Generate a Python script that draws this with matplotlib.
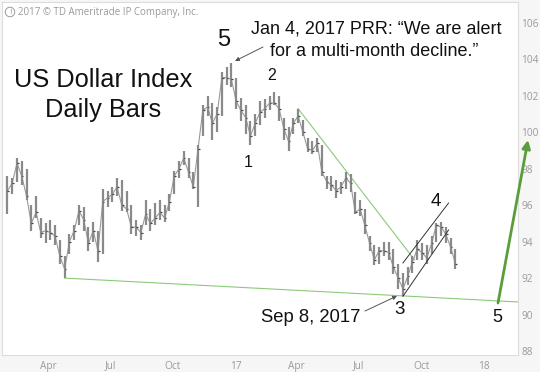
import matplotlib
matplotlib.use('Agg')
import matplotlib.pyplot as plt
import pandas as pd
import numpy as np

plt.rcParams['font.family'] = ['Liberation Sans', 'DejaVu Sans']

# ---- data (weekly bars) ----
week_start = pd.date_range('2016-02-01', periods=95, freq='W-MON')
week_high = [97.6, 97.5, 98.6, 98.4, 98.0, 96.0, 96.5, 95.3, 95.0, 95.2, 94.9, 94.1, 93.2, 94.4, 94.9,
             96.0, 95.9, 94.8, 95.1, 94.6, 96.9, 96.8, 97.0, 97.5, 97.4, 96.8, 96.0, 95.2, 94.9, 96.3,
             95.8, 96.1, 96.3, 96.0, 96.6, 97.9, 98.4, 99.0, 98.6, 97.8, 99.3, 101.5, 102.0, 101.6, 101.4,
             103.3, 103.6, 103.8, 103.0, 101.9, 101.5, 100.6, 101.0, 101.7, 101.8, 102.0, 102.2, 102.0,
             100.8, 100.3, 100.8, 101.3, 100.7, 99.7, 99.5, 99.7, 99.3, 97.6, 97.6, 97.4, 97.3, 97.8,
             97.7, 96.7, 96.3, 95.8, 94.3, 93.8, 93.7, 94.0, 94.0, 93.6, 92.8, 92.3, 92.6, 93.2, 94.1,
             93.9, 93.8, 94.3, 95.0, 95.1, 94.8, 94.2, 93.6]
week_low = [95.5, 96.6, 97.3, 97.1, 96.3, 94.6, 95.3, 94.2, 93.9, 94.1, 93.8, 92.8, 92.0, 93.3, 94.1,
            94.9, 94.6, 93.5, 94.0, 92.9, 93.3, 95.9, 96.2, 96.5, 95.7, 95.6, 94.4, 94.3, 94.1, 94.9,
            94.6, 94.9, 95.2, 95.1, 95.7, 96.6, 97.5, 98.2, 97.5, 96.9, 95.9, 99.8, 100.9, 99.6, 100.0,
            100.9, 102.6, 102.5, 101.3, 100.6, 99.9, 99.3, 99.8, 100.4, 100.8, 101.2, 101.5, 100.6,
            99.6, 99.0, 99.9, 100.5, 99.8, 98.9, 98.8, 98.9, 97.6, 96.9, 96.8, 96.4, 96.6, 96.9,
            96.7, 95.5, 95.4, 94.4, 93.5, 92.7, 92.8, 93.2, 93.0, 92.2, 91.4, 91.0, 91.6, 92.3, 93.0,
            93.0, 92.8, 93.3, 94.0, 94.3, 93.9, 93.3, 92.5]
week_close = [96.8, 97.2, 98.3, 97.6, 96.5, 95.0, 95.6, 94.5, 94.6, 94.5, 94.3, 93.2, 92.5, 94.0, 94.6,
              95.7, 95.2, 93.9, 94.6, 93.5, 96.2, 96.4, 96.6, 97.0, 96.0, 95.8, 94.8, 94.8, 94.5, 95.5,
              95.0, 95.3, 95.6, 95.3, 96.2, 97.6, 98.0, 98.6, 97.8, 97.0, 99.1, 101.2, 101.4, 100.5, 101.0,
              103.0, 103.0, 102.9, 101.7, 101.2, 100.8, 99.8, 100.5, 101.1, 101.3, 101.6, 101.6, 101.3,
              100.2, 99.5, 100.5, 100.9, 100.0, 99.1, 99.0, 99.4, 97.8, 97.3, 97.1, 96.8, 97.0, 97.5,
              97.2, 95.6, 95.8, 94.9, 93.9, 93.0, 93.5, 93.5, 93.4, 92.6, 92.0, 91.4, 92.1, 92.9, 93.6,
              93.4, 93.1, 93.9, 94.9, 94.8, 94.4, 93.7, 92.8]

# annotation lines (dates, values)
support_dates = ['2016-04-25', '2018-02-20']
support_values = [92.0, 90.69]
down_dates = ['2017-04-03', '2017-09-21']
down_values = [101.3, 93.0]
chan_low_dates = ['2017-09-04', '2017-11-10']
chan_low_values = [91.0, 94.64]
chan_up_dates = ['2017-09-04', '2017-11-10']
chan_up_values = [92.83, 96.12]

y_ticks = [88, 90, 92, 94, 96, 98, 100, 102, 104, 106]
x_tick_dates = ['2016-04-01', '2016-07-01', '2016-10-01', '2017-01-01',
                '2017-04-01', '2017-07-01', '2017-10-01', '2018-01-01']
x_tick_labels = ['Apr', 'Jul', 'Oct', '17', 'Apr', 'Jul', 'Oct', '18']

W, H = 540, 372


def fp(x, y):
    return (x / W, 1 - y / H)


fig = plt.figure(figsize=(5.4, 3.72), dpi=100, facecolor='#f6f6f6')
ax = fig.add_axes([2 / W, 1 - 355 / H, (518 - 2) / W, (355 - 2) / H])
ax.set_facecolor('white')

ax.set_xlim(pd.Timestamp('2016-01-24'), pd.Timestamp('2018-02-20'))
ax.set_ylim(87.78, 107.15)

# bars
ax.plot(week_start, week_close, color='#9a9a9a', lw=0.8, zorder=2.5)
ax.vlines(week_start, week_low, week_high, color='#8a8a8a', lw=1.6, zorder=3)
ax.hlines(week_close, week_start, week_start + pd.Timedelta(days=2.5), color='#444444', lw=0.9, zorder=3)

# lines
ax.plot(pd.to_datetime(support_dates), support_values, color='#8cc97a', lw=0.8, zorder=2, clip_on=True)
ax.plot(pd.to_datetime(down_dates), down_values, color='#8cc97a', lw=0.8, zorder=2)
ax.plot(pd.to_datetime(chan_low_dates), chan_low_values, color='#333333', lw=0.7, zorder=4)
ax.plot(pd.to_datetime(chan_up_dates), chan_up_values, color='#333333', lw=0.7, zorder=4)

# axes styling
ax.yaxis.tick_right()
ax.set_yticks(y_ticks)
ax.set_yticklabels([str(v) for v in y_ticks])
ax.set_xticks(pd.to_datetime(x_tick_dates))
ax.set_xticklabels(x_tick_labels)
ax.tick_params(axis='both', length=0, labelsize=7.3, labelcolor='#9a9a9a')
ax.tick_params(axis='y', pad=2.5)
ax.tick_params(axis='x', pad=4)
for lab in ax.get_xticklabels() + ax.get_yticklabels():
    lab.set_fontfamily(['Open Sans', 'DejaVu Sans'])
for s in ax.spines.values():
    s.set_color('#dcdcdc')
    s.set_linewidth(0.8)

# texts
fig.text(*fp(10, 12), '!', ha='center', va='center', fontsize=6, color='#999999',
         bbox=dict(boxstyle='circle,pad=0.15', fc='none', ec='#999999', lw=0.7))
fig.text(*fp(18, 12), '2017 © TD Ameritrade IP Company, Inc.', ha='left', va='center',
         fontsize=7, color='#9a9a9a', family=['Open Sans', 'DejaVu Sans'])

fig.text(*fp(103, 80), 'US Dollar Index', ha='center', va='center', fontsize=18.3, color='#111111')
fig.text(*fp(103, 110), 'Daily Bars', ha='center', va='center', fontsize=18.3, color='#111111')

fig.text(*fp(376, 29), 'Jan 4, 2017 PRR: \u201cWe are alert', ha='center', va='center',
         fontsize=13, color='#111111')
fig.text(*fp(374, 51), 'for a multi-month decline.\u201d', ha='center', va='center',
         fontsize=13, color='#111111')

fig.text(*fp(224, 40), '5', ha='center', va='center', fontsize=17, color='#111111')
fig.text(*fp(272, 75), '2', ha='center', va='center', fontsize=11.5, color='#111111')
fig.text(*fp(248, 162), '1', ha='center', va='center', fontsize=11.5, color='#111111')
fig.text(*fp(436, 201), '4', ha='center', va='center', fontsize=13.5, color='#111111')
fig.text(*fp(400, 310), '3', ha='center', va='center', fontsize=13.5, color='#111111')
fig.text(*fp(497, 318), '5', ha='center', va='center', fontsize=13, color='#111111')
fig.text(*fp(311, 318), 'Sep 8, 2017', ha='center', va='center', fontsize=13.3, color='#111111')

# pointer arrows
ax.annotate('', xy=fp(235, 61), xycoords='figure fraction', xytext=fp(263, 47), textcoords='figure fraction',
            arrowprops=dict(arrowstyle='-|>', color='#555555', lw=0.7, mutation_scale=6, shrinkA=0, shrinkB=0))
ax.annotate('', xy=fp(397, 296), xycoords='figure fraction', xytext=fp(365, 311), textcoords='figure fraction',
            arrowprops=dict(arrowstyle='-|>', color='#555555', lw=0.7, mutation_scale=6, shrinkA=0, shrinkB=0))

# big green projection arrow
ax.annotate('', xy=fp(528, 140), xycoords='figure fraction', xytext=fp(498, 303), textcoords='figure fraction',
            annotation_clip=False,
            arrowprops=dict(arrowstyle='-|>', color='#5a9e3c', lw=2, mutation_scale=12, shrinkA=0, shrinkB=0))

fig.savefig('out.png', dpi=100, facecolor=fig.get_facecolor())
